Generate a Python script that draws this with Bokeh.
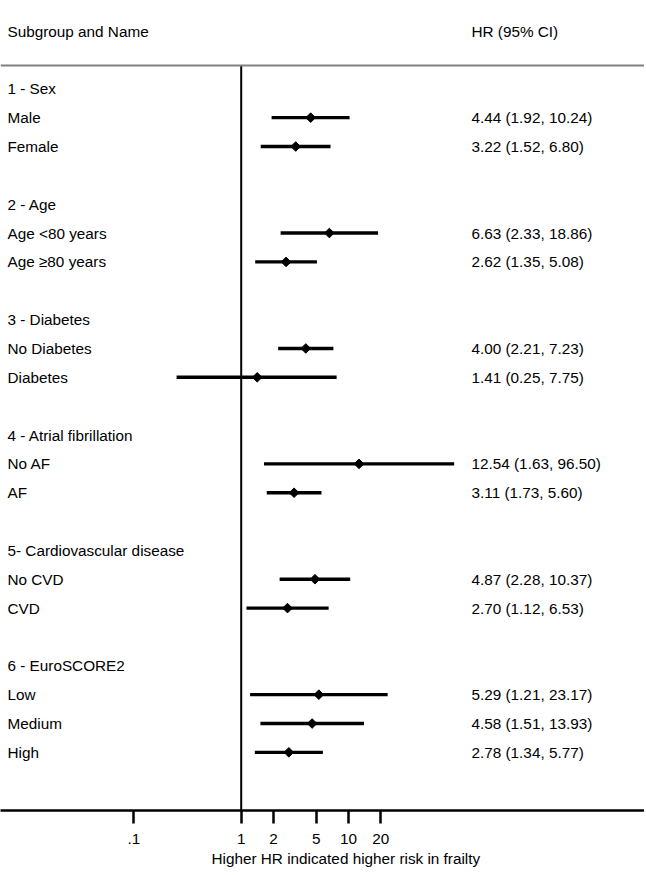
import numpy as np
from bokeh.plotting import figure
from bokeh.models import Range1d, FixedTicker, Span, Title, ColumnDataSource
from bokeh.core.properties import value
from bokeh.embed import file_html
from bokeh.resources import INLINE

# ---- data ----
group_titles = ["1 - Sex", "2 - Age", "3 - Diabetes", "4 - Atrial fibrillation",
                "5- Cardiovascular disease", "6 - EuroSCORE2"]
group_of = [0, 0, 1, 1, 2, 2, 3, 3, 4, 4, 5, 5, 5]
names = ["Male", "Female", "Age <80 years", "Age \u226580 years", "No Diabetes", "Diabetes",
         "No AF", "AF", "No CVD", "CVD", "Low", "Medium", "High"]
hr = [4.44, 3.22, 6.63, 2.62, 4.00, 1.41, 12.54, 3.11, 4.87, 2.70, 5.29, 4.58, 2.78]
lo = [1.92, 1.52, 2.33, 1.35, 2.21, 0.25, 1.63, 1.73, 2.28, 1.12, 1.21, 1.51, 1.34]
hi = [10.24, 6.80, 18.86, 5.08, 7.23, 7.75, 96.50, 5.60, 10.37, 6.53, 23.17, 13.93, 5.77]
tick_values = [0.1, 1, 2, 5, 10, 20]
tick_labels = [".1", "1", "2", "5", "10", "20"]
header_left = "Subgroup and Name"
header_right = "HR (95% CI)"
x_title = "Higher HR indicated higher risk in frailty"

# ---- layout of rows ----
title_rows, item_rows = [], []
row = 1
for g, t in enumerate(group_titles):
    title_rows.append(row)
    row += 1
    for k, gi in enumerate(group_of):
        if gi == g:
            item_rows.append(row)
            row += 1
    row += 1

FONT = "Liberation Sans"
FS = "15.3px"
X_LEFT = 10 ** -2.2433
X_RIGHT = 10 ** 3.7586
X_HR = 10 ** 2.1463
Y_TOP = 2.061
Y_BOTTOM = -26.015
Y_HEADLINE = -0.19

p = figure(frame_width=644, frame_height=810, x_axis_type="log",
           x_range=Range1d(X_LEFT, X_RIGHT), y_range=Range1d(Y_BOTTOM, Y_TOP),
           y_axis_location=None, output_backend="svg", toolbar_location=None,
           min_border_left=0, min_border_right=0, min_border_top=0, min_border_bottom=0)
p.grid.visible = False
p.outline_line_color = None
p.background_fill_color = "white"

ax = p.xaxis[0]
ax.ticker = FixedTicker(ticks=tick_values)
ax.major_label_overrides = {v: l for v, l in zip(tick_values, tick_labels)}
ax.minor_tick_line_color = None
ax.major_tick_in = 0
ax.major_tick_out = 13
ax.axis_line_width = 2.5
ax.major_tick_line_width = 2.5
ax.axis_line_color = "black"
ax.major_tick_line_color = "black"
ax.major_label_text_font = FONT
ax.major_label_text_font_size = FS
ax.major_label_text_color = "black"
ax.major_label_standoff = 10

# header rule
p.add_layout(Span(location=Y_HEADLINE, dimension="width", line_color="#808080", line_width=2))
# reference line at HR = 1
p.segment(x0=[1], y0=[Y_HEADLINE], x1=[1], y1=[Y_BOTTOM], line_color="black", line_width=2)

ys_items = [-r for r in item_rows]
src = ColumnDataSource(dict(
    y=ys_items, hr=hr, lo=lo, hi=hi, name=names,
    lab=[f"{h:.2f} ({a:.2f}, {b:.2f})" for h, a, b in zip(hr, lo, hi)],
    xl=[X_LEFT] * len(hr), xr=[X_HR] * len(hr)))

p.segment(x0="lo", y0="y", x1="hi", y1="y", source=src, line_color="black", line_width=3.4)
p.scatter(x="hr", y="y", source=src, marker="square", angle=np.pi / 4, size=6.8,
          color="black")

text_kw = dict(text_font=value(FONT), text_font_size=value(FS), text_baseline="middle",
               text_align="left", text_color="black")
p.text(x="xl", y="y", text="name", source=src, x_offset=7, **text_kw)
p.text(x="xr", y="y", text="lab", source=src, **text_kw)
p.text(x=[X_LEFT] * len(group_titles), y=[-r for r in title_rows], text=group_titles,
       x_offset=7, **text_kw)
p.text(x=[X_LEFT], y=[1], text=[header_left], x_offset=7, **text_kw)
p.text(x=[X_HR], y=[1], text=[header_right], **text_kw)

p.add_layout(Title(text=x_title, align="left", offset=211, text_font=FONT,
                   text_font_size=FS, text_font_style="normal", text_color="black",
                   standoff=3), "below")

open("out.html", "w").write(file_html(p, INLINE))
